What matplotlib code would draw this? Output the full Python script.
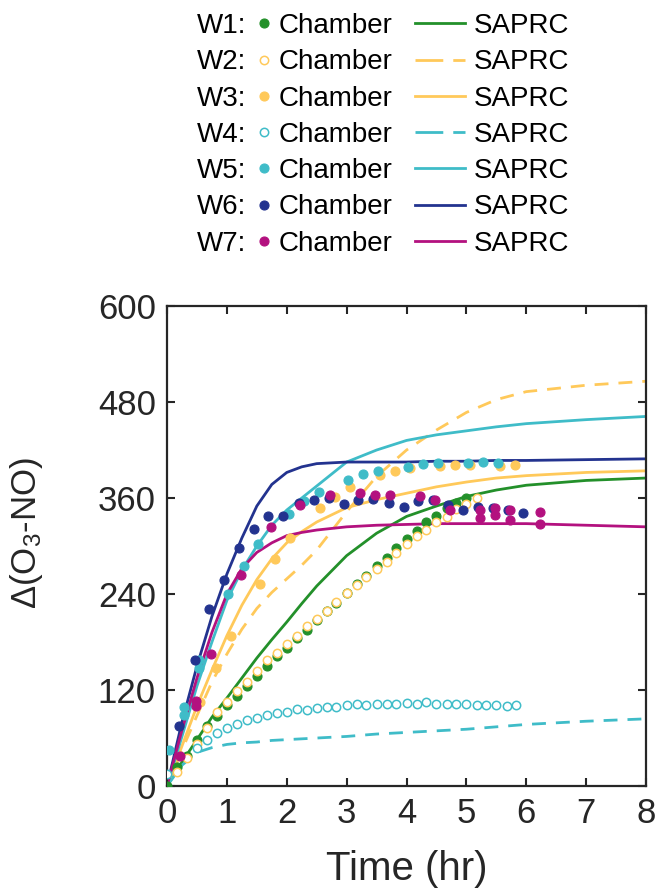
import matplotlib
matplotlib.use("Agg")
import matplotlib.pyplot as plt
from matplotlib.lines import Line2D

plt.rcParams['font.family'] = ['Liberation Sans', 'DejaVu Sans']
plt.rcParams['mathtext.fontset'] = 'custom'
plt.rcParams['mathtext.rm'] = 'Liberation Sans'
plt.rcParams['mathtext.default'] = 'regular'

# ---- chamber data ----
t_w1 = [0, 0.17, 0.33, 0.5, 0.67, 0.83, 1.0, 1.17, 1.33, 1.5, 1.67, 1.83, 2.0, 2.17, 2.33, 2.5,
        2.67, 2.83, 3.0, 3.17, 3.33, 3.5, 3.67, 3.83, 4.0, 4.17, 4.33, 4.5, 4.67, 4.83, 5.0]
y_w1 = [0, 24, 38, 57, 75, 87, 101, 113, 125, 138, 150, 162, 172, 185, 195, 208,
        219, 229, 241, 252, 263, 275, 285, 298, 309, 319, 330, 337, 347, 354, 360]

t_w2 = [0.17, 0.33, 0.5, 0.67, 0.83, 1.0, 1.17, 1.33, 1.5, 1.67, 1.83, 2.0, 2.17, 2.33, 2.5, 2.67,
        2.83, 3.0, 3.17, 3.33, 3.5, 3.67, 3.83, 4.0, 4.17, 4.33, 4.5, 4.67, 4.83, 5.0, 5.17]
y_w2 = [17, 35, 52, 72, 93, 105, 119, 130, 144, 157, 166, 178, 187, 200, 209, 219,
        230, 241, 251, 261, 271, 280, 291, 302, 312, 320, 330, 336, 346, 352, 360]

t_w3 = [0.55, 0.81, 1.07, 1.56, 1.81, 2.06, 2.56, 2.81, 3.06, 3.56, 3.81, 4.06, 4.56, 4.81,
        5.06, 5.56, 5.81]
y_w3 = [105, 147, 187, 253, 284, 310, 347, 361, 374, 389, 394, 397, 400, 401,
        401, 400, 401]

t_w4 = [0, 0.5, 0.67, 0.83, 1.0, 1.17, 1.33, 1.5, 1.67, 1.83, 2.0, 2.17, 2.33, 2.5, 2.67, 2.83,
        3.0, 3.17, 3.33, 3.5, 3.67, 3.83, 4.0, 4.17, 4.33, 4.5, 4.67, 4.83, 5.0, 5.17, 5.33, 5.5,
        5.67, 5.83]
y_w4 = [15, 48, 58, 66, 72, 78, 82, 85, 89, 91, 93, 96, 95, 97, 99, 99,
        101, 102, 101, 102, 102, 103, 104, 103, 105, 103, 102, 103, 102, 101, 101, 101,
        100, 101]

t_w5 = [0.04, 0.29, 0.29, 0.53, 0.54, 1.02, 1.28, 1.52, 2.03, 2.28, 2.53, 3.03, 3.28, 3.53,
        4.03, 4.28, 4.53, 5.03, 5.28, 5.53]
y_w5 = [45, 89, 99, 148, 158, 240, 275, 303, 340, 356, 367, 382, 390, 394,
        399, 402, 404, 404, 405, 404]

t_w6 = [0.2, 0.46, 0.7, 0.95, 1.2, 1.45, 1.69, 1.94, 2.2, 2.45, 2.7, 2.95, 3.19, 3.44, 3.7, 3.95,
        4.2, 4.45, 4.7, 4.95, 5.2, 5.45, 5.7, 5.95]
y_w6 = [75, 157, 221, 257, 297, 321, 337, 337, 354, 358, 360, 352, 358, 359, 354, 349,
        356, 358, 351, 345, 349, 347, 345, 341]

t_w7 = [0.22, 0.48, 0.48, 0.74, 1.23, 1.73, 2.22, 2.72, 3.22, 3.47, 3.72, 4.22, 4.47, 4.72,
        5.22, 5.22, 5.47, 5.47, 5.72, 5.72, 6.23, 6.23]
y_w7 = [38, 100, 106, 165, 264, 324, 351, 364, 366, 364, 364, 362, 358, 345,
        345, 335, 347, 339, 345, 332, 342, 327]

# ---- SAPRC model curves ----
t_model = [0, 0.25, 0.5, 0.75, 1.0, 1.25, 1.5, 1.75, 2.0, 2.25, 2.5, 3.0, 3.5, 4.0, 4.5, 5.0,
           5.5, 6.0, 7.0, 8.0]
m_w1 = [0, 30, 58, 86, 110, 135, 160, 183, 205, 228, 250, 288, 316, 337, 350, 362, 370, 376, 382, 385]
m_w2 = [0, 45, 88, 130, 165, 196, 222, 242, 259, 276, 295, 343, 387, 420, 445, 467, 483, 493, 501, 506]
m_w3 = [0, 50, 100, 145, 188, 226, 258, 284, 304, 318, 330, 348, 358, 366, 374, 380, 385, 388, 392, 394]
m_w4 = [0, 26, 42, 48, 52, 54, 55, 57, 58, 59, 60, 62, 65, 67, 69, 71, 74, 77, 81, 84]
m_w5 = [0, 62, 125, 180, 232, 270, 300, 326, 345, 360, 375, 405, 420, 432, 439, 444, 449, 453, 458, 462]
m_w6 = [0, 80, 150, 212, 265, 310, 350, 377, 392, 399, 403, 405, 405, 405, 406, 406, 407, 407, 408, 409]
m_w7 = [0, 70, 135, 192, 240, 272, 292, 304, 313, 317, 320, 324, 326, 327, 328, 328, 328, 328, 326, 324]

names = ['W1', 'W2', 'W3', 'W4', 'W5', 'W6', 'W7']
colors = ['#23902A', '#FFC95A', '#FFC95A', '#3FBCC8', '#3FBCC8', '#23338F', '#B3117F']
filled = [True, False, True, False, True, True, True]
dashed = [False, True, False, True, False, False, False]

chamber_t = [t_w1, t_w2, t_w3, t_w4, t_w5, t_w6, t_w7]
chamber_y = [y_w1, y_w2, y_w3, y_w4, y_w5, y_w6, y_w7]
model_y = [m_w1, m_w2, m_w3, m_w4, m_w5, m_w6, m_w7]

fig = plt.figure(figsize=(6.56, 8.92), dpi=100)
ax = fig.add_axes([0.2546, 0.1188, 0.7302, 0.5381])

pts, lines = [], []
for i in range(7):
    ls = (0, (5.0, 3.6)) if dashed[i] else '-'
    ln, = ax.plot(t_model, model_y[i], color=colors[i], lw=2.0, ls=ls, zorder=2)
    lines.append(ln)
for i in range(7):
    if filled[i]:
        p, = ax.plot(chamber_t[i], chamber_y[i], 'o', ms=6.5, mfc=colors[i], mec=colors[i],
                     mew=0.8, ls='none', zorder=3)
    else:
        p, = ax.plot(chamber_t[i], chamber_y[i], 'o', ms=6.0, mfc='white', mec=colors[i],
                     mew=1.1, ls='none', zorder=3)
    pts.append(p)

ax.set_xlim(0, 8)
ax.set_ylim(0, 600)
ax.set_xticks(range(0, 9))
ax.set_yticks([0, 120, 240, 360, 480, 600])
ax.tick_params(direction='in', length=6, width=1.5, labelsize=25, colors='#262626',
               top=True, right=True, pad=8)
for s in ax.spines.values():
    s.set_linewidth(1.6)
    s.set_color('#262626')
ax.set_xlabel('Time (hr)', fontsize=29, color='#262626', labelpad=14)
ax.set_ylabel('Δ(O$_3$-NO)', fontsize=25, color='#262626')
ax.yaxis.set_label_coords(-0.255, 0.527)

# legend: three aligned columns
fs = 20
top = 1 - 13 / 892
common = dict(fontsize=fs, frameon=False, borderpad=0, borderaxespad=0, labelspacing=0.37,
              loc='upper left', bbox_transform=fig.transFigure)
blank = [Line2D([], [], alpha=0) for _ in names]
legA = fig.legend(blank, [n + ':' for n in names], handlelength=0, handletextpad=0,
                  bbox_to_anchor=(197 / 656, top), **common)
legB = fig.legend(pts, ['Chamber'] * 7, handlelength=0.5, handletextpad=0.29,
                  bbox_to_anchor=(257 / 656, top), **common)
legC = fig.legend(lines, ['SAPRC'] * 7, handlelength=1.81, handletextpad=0.3,
                  bbox_to_anchor=(415 / 656, top), **common)
for h, d in zip(legC.legend_handles, dashed):
    if d:
        h.set_linestyle((0, (10.0, 3.6)))

fig.savefig('out.png', dpi=100)
